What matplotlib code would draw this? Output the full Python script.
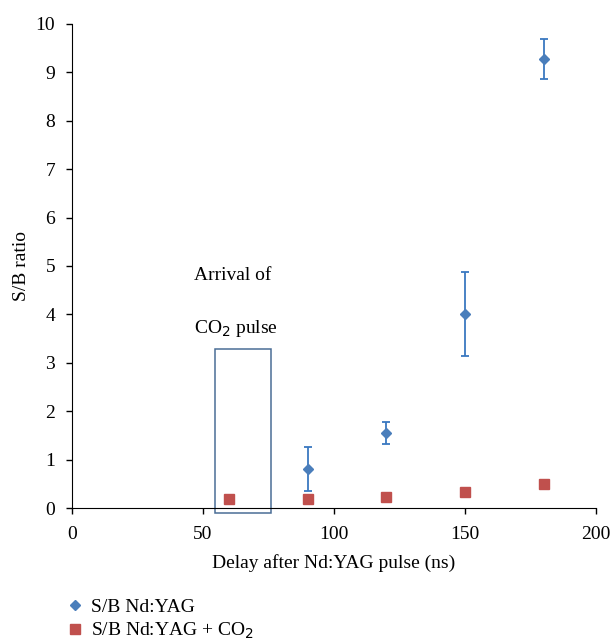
import numpy as np
import matplotlib.pyplot as plt
from matplotlib.patches import Rectangle
from matplotlib.lines import Line2D

plt.rcParams.update({'font.family': 'Liberation Serif'})
plt.rcParams.update({'font.size': 14})

# данные
delay_yag = [90, 120, 150, 180]
sb_yag = [0.81, 1.55, 4.01, 9.28]
err_yag = [0.45, 0.22, 0.87, 0.41]

delay_co2 = [60, 90, 120, 150, 180]
sb_co2 = [0.19, 0.18, 0.23, 0.33, 0.50]

x_ticks = [0, 50, 100, 150, 200]
y_ticks = [0, 1, 2, 3, 4, 5, 6, 7, 8, 9, 10]

fig = plt.figure(figsize=(6.14, 6.44), dpi=100)
ax = fig.add_axes([0.117, 0.211, 0.854, 0.752])

ax.errorbar(delay_yag, sb_yag, yerr=err_yag, fmt='D', color='#4a7ebb', ms=5,
            ecolor='#3a78c0', elinewidth=1.3, capsize=3, capthick=1.3, zorder=3)
ax.plot(delay_co2, sb_co2, 's', color='#c0504d', ms=7, zorder=3)

# прямоугольник прихода CO2 импульса
ax.add_patch(Rectangle((54.6, -0.1), 21.4, 3.39, fill=False, edgecolor='#4a6d96',
                       lw=1.1, clip_on=False, zorder=2))
ax.text(46.5, 4.8, 'Arrival of', fontsize=14, va='center', ha='left')
ax.text(46.5, 3.7, 'CO$_2$ pulse', fontsize=14, va='center', ha='left')

ax.set_xlim(0, 200)
ax.set_ylim(0, 10)
ax.set_xticks(x_ticks)
ax.set_yticks(y_ticks)
ax.spines['top'].set_visible(False)
ax.spines['right'].set_visible(False)
ax.tick_params(direction='out', length=4, width=1)
ax.tick_params(axis='x', pad=9)
ax.tick_params(axis='y', pad=8)
ax.set_xlabel('Delay after Nd:YAG pulse (ns)', fontsize=14, labelpad=8)
ax.set_ylabel('S/B ratio', fontsize=14, labelpad=4)

handles = [Line2D([], [], marker='D', ls='', color='#4a7ebb', ms=5),
           Line2D([], [], marker='s', ls='', color='#c0504d', ms=7)]
fig.legend(handles, ['S/B Nd:YAG', 'S/B Nd:YAG + CO$_2$'], loc='lower left',
           bbox_to_anchor=(0.075, -0.022), frameon=False, fontsize=14,
           handletextpad=0.2, labelspacing=0.22, handlelength=1.2)

plt.savefig('out.png', dpi=100)
